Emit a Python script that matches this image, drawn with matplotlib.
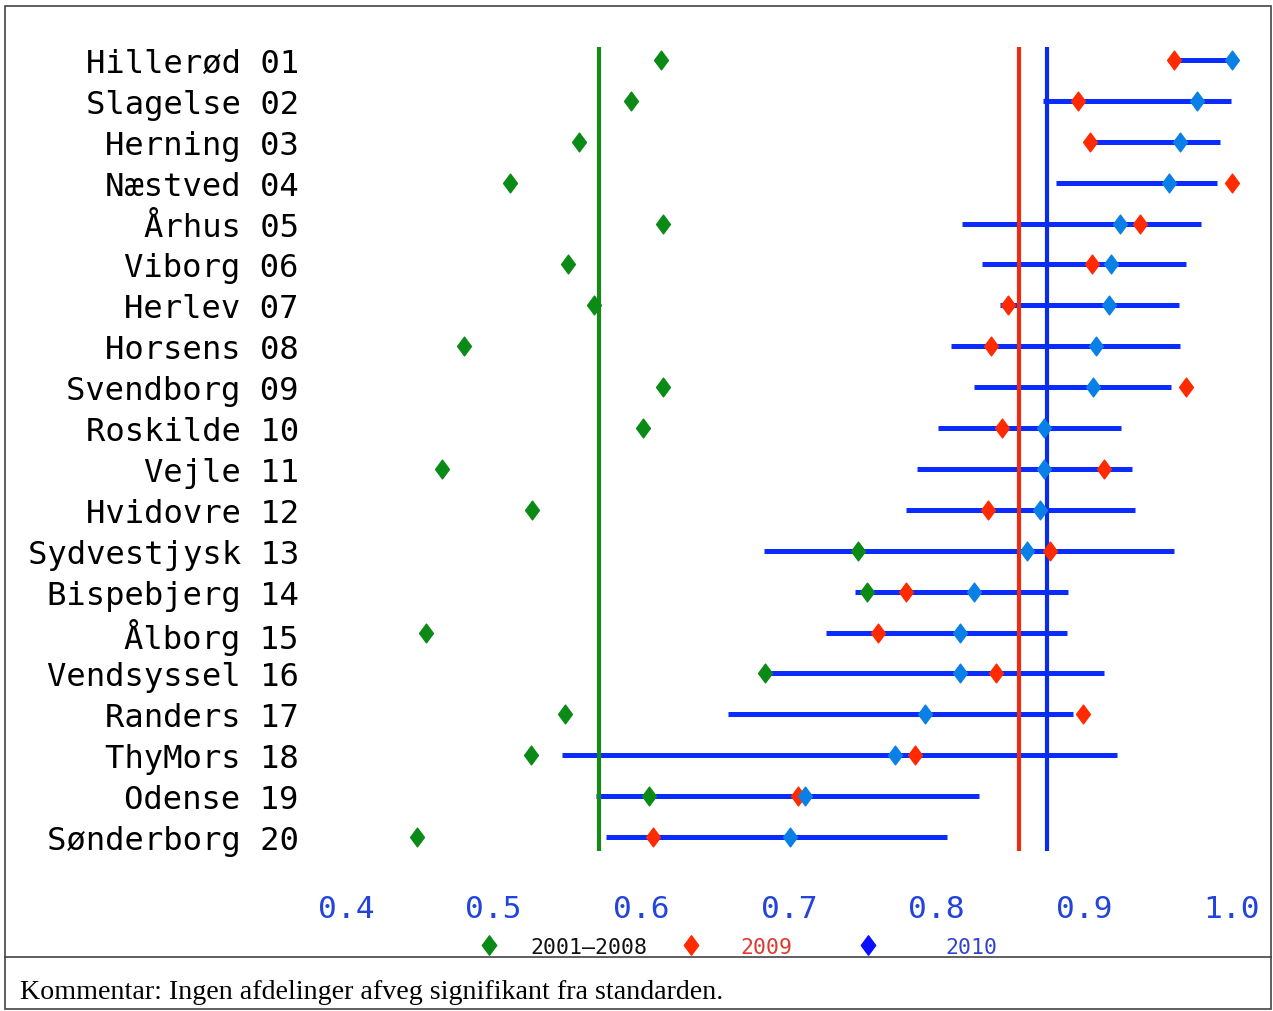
import numpy as np
import matplotlib
matplotlib.use("Agg")
import matplotlib.pyplot as plt
from matplotlib.path import Path
from matplotlib.lines import Line2D

# data
hospitals = ["Hillerød 01", "Slagelse 02", "Herning 03", "Næstved 04", "Århus 05",
             "Viborg 06", "Herlev 07", "Horsens 08", "Svendborg 09", "Roskilde 10",
             "Vejle 11", "Hvidovre 12", "Sydvestjysk 13", "Bispebjerg 14", "Ålborg 15",
             "Vendsyssel 16", "Randers 17", "ThyMors 18", "Odense 19", "Sønderborg 20"]
avg_0108 = [0.613, 0.593, 0.558, 0.511, 0.615, 0.550, 0.568, 0.480, 0.615, 0.601,
            0.465, 0.526, 0.747, 0.753, 0.454, 0.684, 0.548, 0.525, 0.605, 0.448]
val_2009 = [0.961, 0.896, 0.904, 1.000, 0.938, 0.905, 0.848, 0.837, 0.969, 0.844,
            0.913, 0.835, 0.877, 0.779, 0.760, 0.840, 0.899, 0.785, 0.706, 0.608]
val_2010 = [1.000, 0.976, 0.965, 0.957, 0.924, 0.918, 0.917, 0.908, 0.906, 0.873,
            0.873, 0.870, 0.861, 0.825, 0.816, 0.816, 0.792, 0.772, 0.711, 0.701]
ci_low = [0.962, 0.872, 0.904, 0.881, 0.817, 0.831, 0.843, 0.810, 0.825, 0.801,
          0.787, 0.779, 0.683, 0.745, 0.725, 0.684, 0.659, 0.546, 0.569, 0.576]
ci_high = [1.000, 0.999, 0.992, 0.990, 0.979, 0.969, 0.964, 0.965, 0.959, 0.925,
           0.932, 0.934, 0.961, 0.889, 0.888, 0.913, 0.892, 0.922, 0.829, 0.807]
ref_0108 = 0.571
ref_2009 = 0.856
ref_2010 = 0.875
xticks = [0.4, 0.5, 0.6, 0.7, 0.8, 0.9, 1.0]
xtick_labels = ["0.4", "0.5", "0.6", "0.7", "0.8", "0.9", "1.0"]
legend_labels = ["2001\u20132008", "2009", "2010"]

plt.rcParams['font.family'] = ['DejaVu Sans Mono']

diamond = Path([(0, 1), (0.74, 0), (0, -1), (-0.74, 0), (0, 1)],
               [Path.MOVETO, Path.LINETO, Path.LINETO, Path.LINETO, Path.CLOSEPOLY])

W, H = 1273, 1012
fig = plt.figure(figsize=(W / 100, H / 100), dpi=100)
ax = fig.add_axes([346 / W, 1 - 858.45 / H, (1232 - 346) / W, (858.45 - 40.55) / H])

y = np.arange(1, len(hospitals) + 1)

ax.hlines(y, ci_low, ci_high, color='#0a2cff', lw=3.6, zorder=2)
ax.vlines([ref_0108, ref_2009, ref_2010], 0.68, 20.34,
          colors=['#168a16', '#ee2a10', '#0a2ce8'], lw=3, zorder=3)
ax.plot(avg_0108, y, ls='none', marker=diamond, ms=13.5, color='#0b8a16', zorder=4, clip_on=False)
ax.plot(val_2009, y, ls='none', marker=diamond, ms=13.5, color='#ff2a00', zorder=4, clip_on=False)
ax.plot(val_2010, y, ls='none', marker=diamond, ms=13.5, color='#0a80e6', zorder=5, clip_on=False)

ax.set_xlim(0.4, 1.0)
ax.set_ylim(20.5, 0.5)
ax.set_yticks(y, hospitals)
ax.set_xticks(xticks, xtick_labels)
for s in ax.spines.values():
    s.set_visible(False)
ax.tick_params(length=0)
ax.tick_params(axis='y', pad=34, labelsize=23.2, labelcolor='black')
ax.tick_params(axis='x', pad=26, labelsize=22.5, labelcolor='#2244dd')

# legend: one entry per slot, spaced like the original
leg_colors = ['#0b8a16', '#ff2a00', '#0a10ff']
leg_text_colors = ['#111111', '#dd3a30', '#3344cc']
leg_left = [478, 680, 857]
leg_pad = [1.45, 1.8, 3.1]
for lab, mc, tc, xl, tp in zip(legend_labels, leg_colors, leg_text_colors, leg_left, leg_pad):
    h = Line2D([], [], ls='none', marker=diamond, ms=14, color=mc)
    fig.legend([h], [lab], loc='center left', bbox_to_anchor=(xl / W, 1 - 948 / H),
               frameon=False, labelcolor=tc, prop={'size': 15.5},
               handlelength=1.0, handletextpad=tp, borderpad=0, borderaxespad=0)

# frame and comment box
fig.add_artist(plt.Rectangle((5 / W, 1 - 1010 / H), 1266 / W, 1003 / H,
                             transform=fig.transFigure, fill=False, lw=1.2, ec='#444444'))
fig.add_artist(Line2D([5 / W, 1271 / W], [1 - 958 / H] * 2,
                      transform=fig.transFigure, color='#444444', lw=1.2))
fig.text(20 / W, 1 - 999 / H, "Kommentar: Ingen afdelinger afveg signifikant fra standarden.",
         family='Liberation Serif', fontsize=20.2, va='baseline')

fig.savefig("out.png", dpi=100)
